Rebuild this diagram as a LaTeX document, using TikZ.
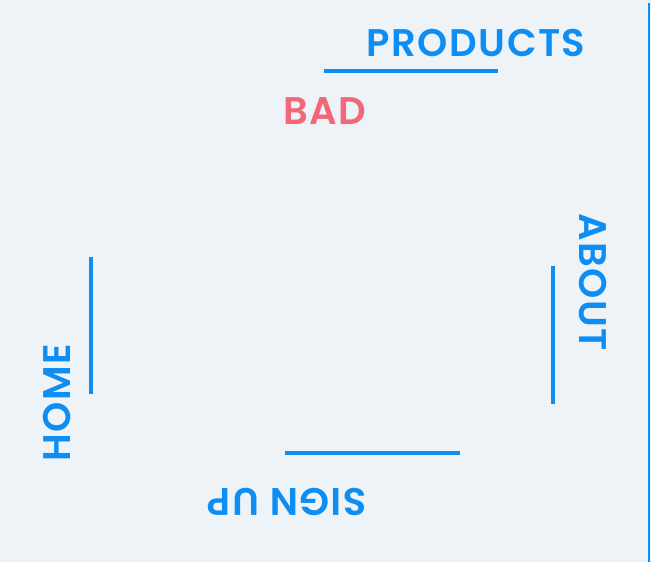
\documentclass[tikz,border=0pt]{standalone}
\usepackage{fontspec}
\newfontfamily\navfont{Poppins SemiBold}[LetterSpace=4]
\usetikzlibrary{positioning}
\definecolor{navbg}{HTML}{EEF3F8}
\definecolor{navblue}{HTML}{0E8EF2}
\definecolor{navred}{HTML}{F2677A}
\tikzset{
  navlabel/.style={inner sep=0pt, text=navblue, font=\navfont\fontsize{38.5}{38.5}\selectfont},
  badlabel/.style={navlabel, text=navred},
  navbar/.style={navblue, line width=4pt}
}
\begin{document}
\begin{tikzpicture}[x=1pt, y=-1pt]
    % Fondo y borde derecho
    \fill[navbg] (0,0) rectangle (651,562);
    \useasboundingbox (0,0) rectangle (651,562);
    \draw[navblue, line width=2pt] (649,3) -- (649,562);

    % Etiquetas del menu
    \node[navlabel] (products) at (476,43) {PRODUCTS};
    \node[badlabel] (bad) at (325,111) {BAD};
    \node[navlabel, rotate=-90] (about) at (593,282) {ABOUT};
    \node[navlabel, rotate=90] (home) at (57,403) {HOME};
    \node[navlabel, rotate=180] (signup) at (287,502) {SIGN UP};

    % Barras
    \draw[navbar] (324,71) -- (498,71);
    \draw[navbar] (553,266) -- (553,404);
    \draw[navbar] (91,257) -- (91,394);
    \draw[navbar] (285,453) -- (460,453);
\end{tikzpicture}
\end{document}
